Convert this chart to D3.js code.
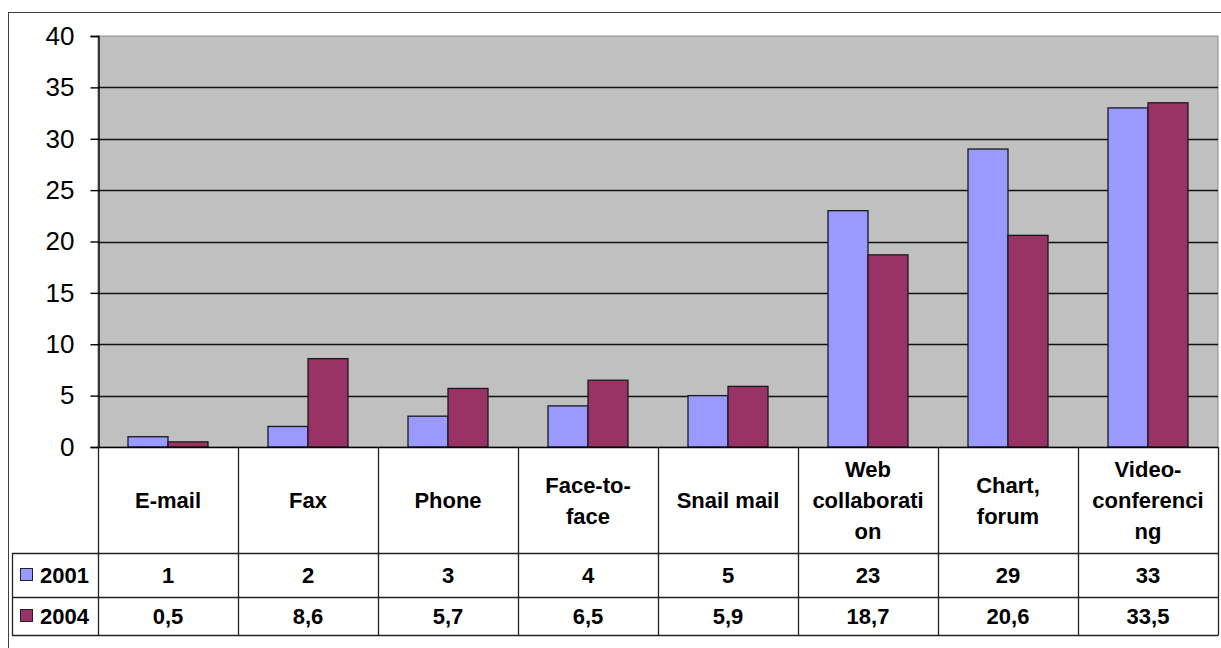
<!DOCTYPE html>
<html>
<head>
<meta charset="utf-8">
<script src="https://cdn.jsdelivr.net/npm/d3@7"></script>
<style>
  html, body { margin: 0; padding: 0; background: #fff; }
  svg { display: block; }
  text { font-family: "Liberation Sans", Arial, sans-serif; fill: #000; }
</style>
</head>
<body>
<svg id="chart" width="1221" height="648"></svg>
<script>
// Category labels (line breaks as shown in the data table)
const categories = ["E-mail", "Fax", "Phone", "Face-to-face", "Snail mail", "Web collaboration", "Chart, forum", "Video-conferencing"];
const categoryLines = [
  ["E-mail"], ["Fax"], ["Phone"], ["Face-to-", "face"], ["Snail mail"],
  ["Web", "collaborati", "on"], ["Chart,", "forum"], ["Video-", "conferenci", "ng"]
];
const seriesNames = ["2001", "2004"];
const values2001 = [1, 2, 3, 4, 5, 23, 29, 33];
const values2004 = [0.5, 8.6, 5.7, 6.5, 5.9, 18.7, 20.6, 33.5];
const yTicks = [0, 5, 10, 15, 20, 25, 30, 35, 40];
const seriesColors = ["#9999FF", "#993366"];

const seriesValues = [values2001, values2004];
const fmt = v => String(v).replace(".", ",");

const svg = d3.select("#chart");

// Layout
const plot = { left: 98, right: 1218, top: 36, bottom: 447 };
const table = { left: 12, catBottom: 553, row1Bottom: 597, row2Bottom: 635 };

// Outer chart border
svg.append("rect")
  .attr("x", 8.5).attr("y", 12.5)
  .attr("width", 1230).attr("height", 660)
  .attr("fill", "#fff").attr("stroke", "#404040").attr("stroke-width", 1);

const x0 = d3.scaleBand().domain(categories).range([plot.left, plot.right]).paddingInner(0).paddingOuter(0);
const bw = x0.bandwidth();
// Excel-style gap width 150%: band = 2 bars + 1.5 bar
const barW = bw / 3.5;
const x1 = d3.scaleBand().domain(seriesNames).range([0.75 * barW, 2.75 * barW]).padding(0);
const y = d3.scaleLinear().domain([0, 40]).range([plot.bottom, plot.top]);

// Plot area background
svg.append("rect")
  .attr("x", plot.left).attr("y", plot.top)
  .attr("width", plot.right - plot.left).attr("height", plot.bottom - plot.top)
  .attr("fill", "#C0C0C0").attr("stroke", "#8c8c8c").attr("stroke-width", 1);

// Gridlines
svg.append("g").selectAll("line")
  .data(yTicks.filter(t => t > 0 && t < 40))
  .join("line")
  .attr("x1", plot.left).attr("x2", plot.right)
  .attr("y1", d => Math.round(y(d)) + 0.5).attr("y2", d => Math.round(y(d)) + 0.5)
  .attr("stroke", "#111").attr("stroke-width", 1.4);

// Y axis
const yAxis = d3.axisLeft(y).tickValues(yTicks).tickSize(8).tickPadding(16).tickFormat(d3.format("d"));
const gy = svg.append("g").attr("transform", `translate(${plot.left + 0.5},0)`).call(yAxis);
gy.select(".domain").attr("stroke", "#000").attr("stroke-width", 1.4);
gy.selectAll(".tick line").attr("stroke", "#000").attr("stroke-width", 1.4);
gy.selectAll(".tick text")
  .style("font-family", "'Liberation Sans', Arial, sans-serif")
  .style("font-size", "26px").attr("fill", "#000");

// Bars
const groups = svg.append("g").selectAll("g")
  .data(categories)
  .join("g")
  .attr("transform", d => `translate(${x0(d)},0)`);

groups.selectAll("rect")
  .data((d, i) => seriesNames.map((s, j) => ({ s, v: seriesValues[j][i], c: seriesColors[j] })))
  .join("rect")
  .attr("x", d => x1(d.s))
  .attr("y", d => y(d.v))
  .attr("width", x1.bandwidth())
  .attr("height", d => y(0) - y(d.v))
  .attr("fill", d => d.c)
  .attr("stroke", "#1a1a1a").attr("stroke-width", 1.3);

// Baseline
svg.append("line")
  .attr("x1", plot.left).attr("x2", plot.right)
  .attr("y1", plot.bottom + 0.5).attr("y2", plot.bottom + 0.5)
  .attr("stroke", "#000").attr("stroke-width", 1.4);

// Data table
const tg = svg.append("g");
const lineColor = "#222";
// Category column separators
tg.selectAll("line.col")
  .data(categories.map(c => x0(c)).concat([plot.right]))
  .join("line").attr("class", "col")
  .attr("x1", d => d + 0.5).attr("x2", d => d + 0.5)
  .attr("y1", plot.bottom).attr("y2", table.row2Bottom)
  .attr("stroke", lineColor).attr("stroke-width", 1.3);
// Row lines
[table.catBottom, table.row1Bottom, table.row2Bottom].forEach(yy => {
  tg.append("line")
    .attr("x1", table.left).attr("x2", plot.right + 0.5)
    .attr("y1", yy + 0.5).attr("y2", yy + 0.5)
    .attr("stroke", lineColor).attr("stroke-width", 1.3);
});
tg.append("line")
  .attr("x1", table.left + 0.5).attr("x2", table.left + 0.5)
  .attr("y1", table.catBottom).attr("y2", table.row2Bottom)
  .attr("stroke", lineColor).attr("stroke-width", 1.3);

// Category labels
const catMid = (plot.bottom + table.catBottom) / 2;
const lh = 31;
categories.forEach((c, i) => {
  const lines = categoryLines[i];
  const cx = x0(c) + bw / 2;
  const startY = catMid - (lines.length - 1) * lh / 2;
  const t = tg.append("text")
    .attr("text-anchor", "middle")
    .attr("dominant-baseline", "central")
    .style("font-size", "22px").style("font-weight", "bold");
  lines.forEach((ln, k) => {
    t.append("tspan").attr("x", cx).attr("y", startY + k * lh).text(ln);
  });
});

// Value rows with legend keys
const rowMids = [(table.catBottom + table.row1Bottom) / 2, (table.row1Bottom + table.row2Bottom) / 2];
seriesNames.forEach((s, j) => {
  const ry = rowMids[j];
  tg.append("rect")
    .attr("x", 20.5).attr("y", ry - 6.5)
    .attr("width", 12).attr("height", 12)
    .attr("fill", seriesColors[j]).attr("stroke", "#222").attr("stroke-width", 1);
  tg.append("text")
    .attr("x", 40).attr("y", ry)
    .attr("dominant-baseline", "central")
    .style("font-size", "22px").style("font-weight", "bold")
    .text(s);
  tg.selectAll(null)
    .data(seriesValues[j])
    .join("text")
    .attr("x", (d, i) => x0(categories[i]) + bw / 2)
    .attr("y", ry)
    .attr("text-anchor", "middle")
    .attr("dominant-baseline", "central")
    .style("font-size", "22px").style("font-weight", "bold")
    .text(d => fmt(d));
});
</script>
</body>
</html>
